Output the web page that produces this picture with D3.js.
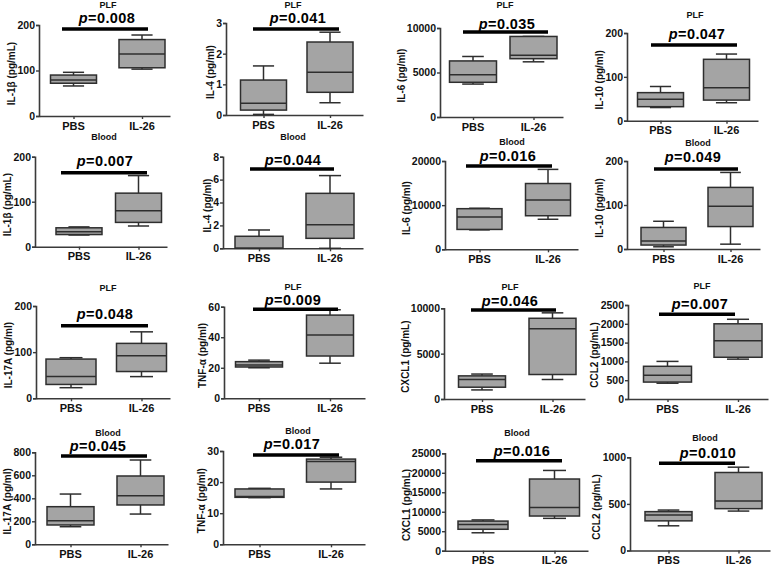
<!DOCTYPE html>
<html><head><meta charset="utf-8">
<script src="https://cdn.jsdelivr.net/npm/d3@7"></script>
<style>
html,body{margin:0;padding:0;background:#fff;}
svg text{font-family:"Liberation Sans",Arial,sans-serif;}
</style></head>
<body>
<svg id="chart" width="778" height="566"></svg>
<script>
// ---- data ----
const categories = ["PBS", "IL-26"];
const yLabels = ["IL-1\u03b2  (pg/mL)","IL-4 (pg/ml)","IL-6 (pg/ml)","IL-10 (pg/ml)",
  "IL-1\u03b2  (pg/mL)","IL-4 (pg/ml)","IL-6 (pg/ml)","IL-10 (pg/ml)",
  "IL-17A (pg/ml)","TNF-\u03b1 (pg/ml)","CXCL1 (pg/mL)","CCL2 (pg/mL)",
  "IL-17A (pg/ml)","TNF-\u03b1 (pg/ml)","CXCL1 (pg/mL)","CCL2 (pg/mL)"];
const titles = ["PLF","PLF","PLF","PLF","Blood","Blood","Blood","Blood",
  "PLF","PLF","PLF","PLF","Blood","Blood","Blood","Blood"];
const pValues = ["0.008","0.041","0.035","0.047","0.007","0.044","0.016","0.049",
  "0.048","0.009","0.046","0.007","0.045","0.017","0.016","0.010"];
const yMaxes = [200,3,10000,200,200,8,20000,200,200,60,10000,2500,800,30,25000,1000];
const yTickSteps = [100,1,5000,100,100,2,10000,100,100,20,5000,500,200,10,5000,500];
// [min, q1, median, q3, max]
const pbsStats = [
  [66,72,79,90,96],[0.02,0.16,0.38,1.14,1.6],[3700,3900,4750,6300,6800],[30,32,49,64,78],
  [26,27,33,42,44],[0,0,0,1.05,1.6],[4400,4500,7300,9200,9300],[5,9,18,49,63],
  [23,30,47,85,88],[20,20.5,21.8,24,25],[1000,1300,2150,2550,2750],[420,450,630,870,1000],
  [153,168,205,327,437],[15,15.1,15.4,17.8,18],[4600,5500,6700,7600,7900],[265,318,381,417,434]];
const il26Stats = [
  [103,106,136,168,178],[0.4,0.74,1.39,2.38,2.7],[6200,6550,6950,9050,9050],[41,47,75,140,152],
  [46,54,80,119,158],[0,0.87,2.05,4.8,6.35],[6800,7600,11150,14900,18100],[11,51,97,140,174],
  [47,58,92,119,144],[23,27.7,41.5,54.5,58],[2150,2700,7750,8900,9500],[1060,1110,1550,2000,2120],
  [263,342,423,594,733],[17.8,20,26.6,27.4,28],[8300,8900,11100,18400,20600],[423,449,530,837,894]];

// ---- layout (pixel geometry per panel) ----
const layout = [
  {ax:39,top:25,bot:116,xEnd:170,c1:73.5,c2:142,bw:46,sy:29,s1:62,s2:148,py:17,px:107,ty:5,tx:108},
  {ax:226,top:23,bot:115,xEnd:363,c1:263.5,c2:330,bw:46,sy:29,s1:253,s2:339,py:17,px:298,ty:5,tx:293},
  {ax:440,top:28,bot:117,xEnd:563,c1:473,c2:533.5,bw:47,sy:32,s1:463,s2:548,py:23,px:507,ty:5,tx:505},
  {ax:627,top:33,bot:120.7,xEnd:758,c1:660.5,c2:726.5,bw:46,sy:45,s1:651,s2:737,py:33,px:697,ty:15,tx:695},
  {ax:35,top:156.7,bot:246.7,xEnd:167,c1:79,c2:138.5,bw:46,sy:172.7,s1:61,s2:147,py:160,px:105,ty:137,tx:104},
  {ax:223,top:156.7,bot:248.3,xEnd:363,c1:259,c2:330,bw:48,sy:169,s1:250,s2:334,py:159,px:293,ty:137,tx:293},
  {ax:445,top:161,bot:249.3,xEnd:578,c1:479.5,c2:548,bw:45,sy:166,s1:466,s2:552,py:155,px:508,ty:142,tx:512},
  {ax:627,top:161,bot:249,xEnd:760,c1:663.5,c2:730.5,bw:45,sy:169,s1:654,s2:738,py:156,px:693,ty:143,tx:698},
  {ax:36,top:306,bot:398.3,xEnd:170,c1:71,c2:141.5,bw:50,sy:325.7,s1:61,s2:148,py:313,px:105,ty:288,tx:108},
  {ax:224,top:306.7,bot:398.3,xEnd:365,c1:259,c2:330,bw:47,sy:309.3,s1:253,s2:338,py:299,px:293,ty:286.5,tx:293},
  {ax:444,top:308.3,bot:399,xEnd:585,c1:482,c2:552.5,bw:47,sy:310,s1:471,s2:556,py:300.7,px:510,ty:286.5,tx:510},
  {ax:628,top:305,bot:399,xEnd:768,c1:667.5,c2:738,bw:48,sy:314.3,s1:659,s2:735,py:303,px:700,ty:286,tx:702},
  {ax:35,top:452.3,bot:544.3,xEnd:168,c1:70.5,c2:140.5,bw:47,sy:456,s1:61,s2:147,py:445,px:98,ty:432.7,tx:108},
  {ax:223,top:451,bot:544.3,xEnd:365,c1:259.5,c2:331,bw:49,sy:455,s1:253,s2:339,py:443,px:292,ty:431,tx:298},
  {ax:445,top:453.3,bot:550.7,xEnd:588,c1:483,c2:554.5,bw:50,sy:460.7,s1:476,s2:562,py:450,px:522,ty:433,tx:517},
  {ax:630,top:457.3,bot:550.5,xEnd:770,c1:668.5,c2:738.5,bw:47,sy:463.3,s1:659,s2:735,py:452,px:708,ty:438,tx:705}
];

const svg = d3.select("#chart");
const axisColor = "#3a3a3a";
const boxFill = "#a4a4a4";
const boxStroke = "#2e2e2e";
const FONT = '"Liberation Sans",Arial,sans-serif';

layout.forEach((L, i) => {
  const g = svg.append("g");
  const y = d3.scaleLinear().domain([0, yMaxes[i]]).range([L.bot, L.top]);
  const x = d3.scalePoint().domain(categories).range([L.c1, L.c2]);
  const ticks = d3.range(0, yMaxes[i] + yTickSteps[i] / 2, yTickSteps[i]);

  // y axis
  const yAxis = d3.axisLeft(y).tickValues(ticks).tickSize(3).tickPadding(1).tickFormat(d3.format("d"));
  const ya = g.append("g").attr("transform", `translate(${L.ax},0)`).call(yAxis);
  ya.select(".domain").attr("stroke", axisColor).attr("stroke-width", 1.6);
  ya.selectAll(".tick line").attr("stroke", axisColor).attr("stroke-width", 1.4);
  ya.selectAll(".tick text").attr("fill", "#111").attr("font-size", 10.5).attr("font-weight", "bold")
    .attr("font-family", FONT);

  // x axis line with category ticks
  const xScaleLine = d3.scaleLinear().domain([L.ax, L.xEnd]).range([L.ax, L.xEnd]);
  const xAxis = d3.axisBottom(xScaleLine).tickValues(categories.map(c => x(c)))
    .tickSize(3).tickSizeOuter(0).tickFormat("");
  const xa = g.append("g").attr("transform", `translate(0,${L.bot})`).call(xAxis);
  xa.select(".domain").attr("stroke", axisColor).attr("stroke-width", 1.6);
  xa.selectAll(".tick line").attr("stroke", axisColor).attr("stroke-width", 1.4);

  // category labels
  g.selectAll(".cat").data(categories).join("text")
    .attr("x", d => x(d)).attr("y", L.bot + 13.5)
    .attr("text-anchor", "middle")
    .attr("font-size", 11).attr("font-weight", "bold").attr("fill", "#111")
    .text(d => d);

  // y label
  const tw = d3.max(ticks, t => String(t).length) * 5.8;
  g.append("text")
    .attr("transform", `translate(${L.ax - tw - 10},${(L.top + L.bot) / 2 + 3}) rotate(-90)`)
    .attr("text-anchor", "middle").attr("dominant-baseline", "central")
    .attr("font-size", 10).attr("font-weight", "bold").attr("fill", "#111")
    .text(yLabels[i]);

  // boxes
  const stats = [pbsStats[i], il26Stats[i]];
  stats.forEach((s, k) => {
    const cx = x(categories[k]);
    const bw = L.bw, cap = bw * 0.46;
    const bg = g.append("g").attr("stroke", boxStroke).attr("stroke-width", 1.5).attr("fill", "none");
    bg.append("line").attr("x1", cx).attr("x2", cx).attr("y1", y(s[4])).attr("y2", y(s[3]));
    bg.append("line").attr("x1", cx).attr("x2", cx).attr("y1", y(s[1])).attr("y2", y(s[0]));
    bg.append("line").attr("x1", cx - cap / 2).attr("x2", cx + cap / 2).attr("y1", y(s[4])).attr("y2", y(s[4]));
    bg.append("line").attr("x1", cx - cap / 2).attr("x2", cx + cap / 2).attr("y1", y(s[0])).attr("y2", y(s[0]));
    bg.append("rect").attr("x", cx - bw / 2).attr("y", y(s[3])).attr("width", bw)
      .attr("height", Math.max(0.5, y(s[1]) - y(s[3]))).attr("fill", boxFill);
    bg.append("line").attr("x1", cx - bw / 2).attr("x2", cx + bw / 2).attr("y1", y(s[2])).attr("y2", y(s[2]));
  });

  // significance bar
  g.append("line").attr("x1", L.s1).attr("x2", L.s2).attr("y1", L.sy).attr("y2", L.sy)
    .attr("stroke", "#000").attr("stroke-width", 3.5);

  // p value
  const pt = g.append("text").attr("x", L.px).attr("y", L.py + 5.5)
    .attr("text-anchor", "middle")
    .attr("font-size", 14.5).attr("font-weight", "bold").attr("fill", "#000")
    .attr("letter-spacing", 0.4);
  pt.append("tspan").attr("font-style", "italic").text("p");
  pt.append("tspan").text("=" + pValues[i]);

  // title
  g.append("text").attr("x", L.tx).attr("y", L.ty + 3)
    .attr("text-anchor", "middle")
    .attr("font-size", 9).attr("font-weight", "bold").attr("fill", "#111")
    .text(titles[i]);
});
</script>
</body></html>
